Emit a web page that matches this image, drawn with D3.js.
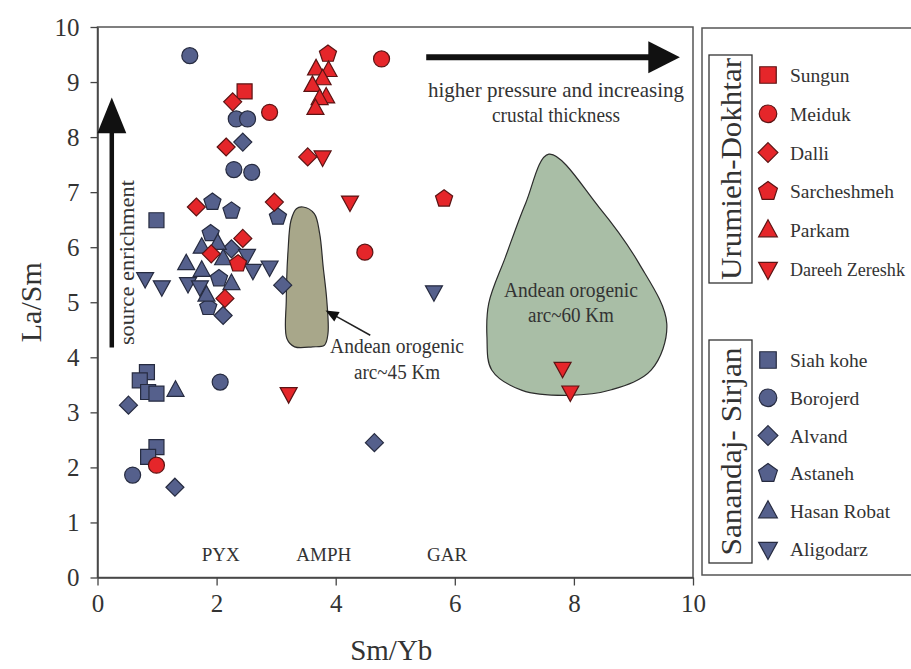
<!DOCTYPE html>
<html>
<head>
<meta charset="utf-8">
<script src="https://cdn.jsdelivr.net/npm/d3@7/dist/d3.min.js"></script>
<style>
  html, body { margin: 0; padding: 0; background: #fff; }
  #chart { width: 911px; height: 669px; overflow: hidden; }
  text { font-family: "Liberation Serif", "DejaVu Serif", serif; fill: #333; }
</style>
</head>
<body>
<div id="chart"></div>
<script>
// axis ticks
const xTicks = [0, 2, 4, 6, 8, 10];
const yTicks = [0, 1, 2, 3, 4, 5, 6, 7, 8, 9, 10];

// legend groups and series names
const groupUD = 'Urumieh-Dokhtar';
const groupSS = 'Sanandaj- Sirjan';
const seriesUD = ['Sungun', 'Meiduk', 'Dalli', 'Sarcheshmeh', 'Parkam', 'Dareeh Zereshk'];
const seriesSS = ['Siah kohe', 'Borojerd', 'Alvand', 'Astaneh', 'Hasan Robat', 'Aligodarz'];
const shapeOrder = ['square', 'circle', 'diamond', 'pentagon', 'triangle', 'triangleDown'];

// Urumieh-Dokhtar samples [Sm/Yb, La/Sm]
const sungun = [[2.47, 8.83]];
const meiduk = [[2.89, 8.45], [4.77, 9.42], [4.49, 5.91], [0.99, 2.04]];
const dalli = [[2.27, 8.64], [2.16, 7.82], [2.97, 6.82], [1.66, 6.73], [2.44, 6.16], [1.91, 5.88], [2.14, 5.07], [3.53, 7.64]];
const sarcheshmeh = [[3.87, 9.51], [5.82, 6.88], [2.36, 5.70]];
const parkam = [[3.67, 9.24], [3.88, 9.21], [3.78, 9.06], [3.61, 8.94], [3.84, 8.73], [3.73, 8.70], [3.66, 8.52]];
const dareehZereshk = [[3.78, 7.64], [4.24, 6.82], [3.21, 3.34], [7.81, 3.80], [7.94, 3.37]];

// Sanandaj-Sirjan samples
const siahKohe = [[0.99, 6.49], [0.83, 3.73], [0.71, 3.58], [0.85, 3.37], [0.99, 3.34], [0.99, 2.37], [0.85, 2.19]];
const borojerd = [[1.55, 9.48], [2.33, 8.33], [2.52, 8.33], [2.29, 7.41], [2.59, 7.36], [2.06, 3.55], [0.59, 1.86]];
const alvand = [[2.44, 7.91], [2.25, 5.97], [3.11, 5.31], [2.11, 4.76], [0.52, 3.13], [1.30, 1.64], [4.65, 2.45]];
const astaneh = [[1.93, 6.82], [2.25, 6.66], [3.03, 6.55], [1.90, 6.25], [2.04, 5.43], [1.86, 4.91]];
const hasanRobat = [[1.75, 6.00], [2.02, 6.07], [2.11, 5.79], [1.49, 5.70], [1.75, 5.58], [2.25, 5.34], [1.83, 5.13], [1.31, 3.40]];
const aligodarz = [[2.51, 5.85], [2.61, 5.58], [2.89, 5.64], [1.52, 5.34], [1.72, 5.28], [0.80, 5.43], [1.08, 5.28], [5.65, 5.19]];

// Andean arc fields (outline in data units)
const andean45 = [[3.45, 6.73], [3.64, 6.61], [3.73, 6.25], [3.79, 5.64], [3.85, 5.04], [3.87, 4.43], [3.81, 4.22],
  [3.61, 4.19], [3.31, 4.19], [3.18, 4.34], [3.17, 5.04], [3.20, 5.94], [3.25, 6.49], [3.34, 6.70]];
const andean60 = [[7.58, 7.69], [8.42, 6.73], [9.09, 5.71], [9.56, 4.61], [9.30, 3.77], [8.63, 3.41], [7.91, 3.31],
  [7.13, 3.40], [6.62, 3.77], [6.54, 4.37], [6.57, 4.98], [6.85, 5.82], [7.19, 6.80]];

// field labels
const phaseLabels = [['PYX', 2.07], ['AMPH', 3.8], ['GAR', 5.87]];

class LaSmDiagram {
  constructor(containerId) {
    this.containerId = containerId;
    this.red = '#e5262a';
    this.redStroke = '#5b1414';
    this.blue = '#55608c';
    this.blueStroke = '#262b40';
    this.init();
    this.renderFields();
    this.renderAxes();
    this.renderAnnotations();
    this.renderPoints();
    this.renderLegend();
  }

  init() {
    const vis = this;
    vis.svg = d3.select(`#${vis.containerId}`)
      .append('svg')
      .attr('width', 911)
      .attr('height', 669);

    vis.xScale = d3.scaleLinear().domain([0, 10]).range([97.5, 693]);
    vis.yScale = d3.scaleLinear().domain([0, 10]).range([577.5, 27]);
  }

  shapePath(type, k) {
    const p = (pts) => 'M' + pts.map((d) => `${d[0] * k},${d[1] * k}`).join('L') + 'Z';
    if (type === 'square') return p([[-7.5, -7.5], [7.5, -7.5], [7.5, 7.5], [-7.5, 7.5]]);
    if (type === 'diamond') return p([[0, -9], [9, 0], [0, 9], [-9, 0]]);
    if (type === 'triangle') return p([[0, -9.5], [8.5, 6], [-8.5, 6]]);
    if (type === 'triangleDown') return p([[0, 9.5], [8.5, -6], [-8.5, -6]]);
    if (type === 'pentagon') {
      return p(d3.range(5).map((i) => {
        const a = -Math.PI / 2 + i * 2 * Math.PI / 5;
        return [9 * Math.cos(a), 9 * Math.sin(a)];
      }));
    }
    const r = 8 * k;
    return `M${-r},0A${r},${r} 0 1,0 ${r},0A${r},${r} 0 1,0 ${-r},0Z`;
  }

  renderFields() {
    const vis = this;
    const line = d3.line()
      .x((d) => vis.xScale(d[0]))
      .y((d) => vis.yScale(d[1]))
      .curve(d3.curveCatmullRomClosed.alpha(0.5));

    vis.svg.append('path')
      .datum(andean45)
      .attr('d', line)
      .attr('fill', '#a8a78a')
      .attr('stroke', '#2b2b2b')
      .attr('stroke-width', 1.2);

    vis.svg.append('path')
      .datum(andean60)
      .attr('d', line)
      .attr('fill', '#a9bea6')
      .attr('stroke', '#2b2b2b')
      .attr('stroke-width', 1.2);
  }

  renderAxes() {
    const vis = this;

    // plot frame
    vis.svg.append('rect')
      .attr('x', vis.xScale(0))
      .attr('y', vis.yScale(10))
      .attr('width', vis.xScale(10) - vis.xScale(0))
      .attr('height', vis.yScale(0) - vis.yScale(10))
      .attr('fill', 'none')
      .attr('stroke', '#555')
      .attr('stroke-width', 1.5);

    const xAxis = d3.axisBottom(vis.xScale).tickValues(xTicks).tickSize(8).tickSizeOuter(0).tickPadding(9);
    const yAxis = d3.axisLeft(vis.yScale).tickValues(yTicks).tickSize(7).tickSizeOuter(0).tickPadding(11);

    const gx = vis.svg.append('g')
      .attr('class', 'x-axis')
      .attr('transform', `translate(0,${vis.yScale(0)})`)
      .call(xAxis);
    const gy = vis.svg.append('g')
      .attr('class', 'y-axis')
      .attr('transform', `translate(${vis.xScale(0)},0)`)
      .call(yAxis);

    [gx, gy].forEach((g) => {
      g.select('.domain').attr('stroke', '#444').attr('stroke-width', 1.5);
      g.selectAll('.tick line').attr('stroke', '#444').attr('stroke-width', 1.3);
      g.selectAll('.tick text')
        .attr('fill', '#333')
        .style('font-family', '"Liberation Serif", serif')
        .style('font-size', '25px');
    });

    vis.svg.append('text')
      .attr('transform', `translate(41,${(vis.yScale(0) + vis.yScale(10)) / 2}) rotate(-90)`)
      .attr('text-anchor', 'middle')
      .style('font-size', '30px')
      .text('La/Sm');

    vis.svg.append('text')
      .attr('x', (vis.xScale(0) + vis.xScale(10)) / 2 - 4)
      .attr('y', 660)
      .attr('text-anchor', 'middle')
      .style('font-size', '29px')
      .text('Sm/Yb');
  }

  renderAnnotations() {
    const vis = this;
    const x = vis.xScale;
    const y = vis.yScale;

    // vertical arrow: source enrichment
    vis.svg.append('line')
      .attr('x1', x(0.24)).attr('x2', x(0.24))
      .attr('y1', y(4.18)).attr('y2', y(8.1))
      .attr('stroke', '#111').attr('stroke-width', 4.5);
    vis.svg.append('path')
      .attr('d', `M${x(0.24)},${y(8.72)}L${x(0.24) + 14.5},${y(8.07)}L${x(0.24) - 14.5},${y(8.07)}Z`)
      .attr('fill', '#111');
    vis.svg.append('text')
      .attr('transform', `translate(${x(0.24) + 22},${y(5.72)}) rotate(-90)`)
      .attr('text-anchor', 'middle')
      .attr('textLength', 165)
      .attr('lengthAdjust', 'spacingAndGlyphs')
      .style('font-size', '20px')
      .text('source enrichment');

    // horizontal arrow: pressure
    vis.svg.append('line')
      .attr('x1', x(5.52)).attr('x2', x(9.27))
      .attr('y1', y(9.45)).attr('y2', y(9.45))
      .attr('stroke', '#111').attr('stroke-width', 6);
    vis.svg.append('path')
      .attr('d', `M${x(9.78)},${y(9.45)}L${x(9.25)},${y(9.45) - 16}L${x(9.25)},${y(9.45) + 16}Z`)
      .attr('fill', '#111');

    vis.svg.append('text')
      .attr('x', x(7.7)).attr('y', y(8.72))
      .attr('text-anchor', 'middle')
      .attr('textLength', 256)
      .attr('lengthAdjust', 'spacingAndGlyphs')
      .style('font-size', '21px')
      .text('higher pressure and increasing');
    vis.svg.append('text')
      .attr('x', x(7.7)).attr('y', y(8.28))
      .attr('text-anchor', 'middle')
      .attr('textLength', 128)
      .attr('lengthAdjust', 'spacingAndGlyphs')
      .style('font-size', '21px')
      .text('crustal thickness');

    // 45 km field label and pointer
    vis.svg.append('line')
      .attr('x1', x(4.58)).attr('y1', y(4.40))
      .attr('x2', x(3.95)).attr('y2', y(4.78))
      .attr('stroke', '#222').attr('stroke-width', 1.5);
    vis.svg.append('path')
      .attr('d', () => {
        const tx = x(3.83); const ty = y(4.85);
        const ang = Math.atan2(y(4.40) - ty, x(4.58) - tx);
        const l = 13; const w = 5.5;
        const bx = tx + l * Math.cos(ang); const by = ty + l * Math.sin(ang);
        return `M${tx},${ty}L${bx - w * Math.sin(ang)},${by + w * Math.cos(ang)}L${bx + w * Math.sin(ang)},${by - w * Math.cos(ang)}Z`;
      })
      .attr('fill', '#111');

    const fieldText = (cx, y1, y2, second) => {
      vis.svg.append('text')
        .attr('x', x(cx)).attr('y', y(y1))
        .attr('text-anchor', 'middle')
        .attr('textLength', 134)
        .attr('lengthAdjust', 'spacingAndGlyphs')
        .style('font-size', '20px')
        .text('Andean orogenic');
      vis.svg.append('text')
        .attr('x', x(cx)).attr('y', y(y2))
        .attr('text-anchor', 'middle')
        .attr('textLength', 86)
        .attr('lengthAdjust', 'spacingAndGlyphs')
        .style('font-size', '20px')
        .text(second);
    };
    fieldText(5.03, 4.07, 3.61, 'arc~45 Km');
    fieldText(7.95, 5.09, 4.64, 'arc~60 Km');

    vis.svg.selectAll('.phase')
      .data(phaseLabels)
      .enter()
      .append('text')
      .attr('class', 'phase')
      .attr('x', (d) => x(d[1]))
      .attr('y', y(0.3))
      .attr('text-anchor', 'middle')
      .style('font-size', '19px')
      .text((d) => d[0]);
  }

  renderPoints() {
    const vis = this;
    const blueSets = [siahKohe, borojerd, alvand, astaneh, hasanRobat, aligodarz];
    const redSets = [sungun, meiduk, dalli, sarcheshmeh, parkam, dareehZereshk];

    const drawSet = (pts, shape, fill, stroke) => {
      vis.svg.append('g')
        .selectAll('path')
        .data(pts)
        .enter()
        .append('path')
        .attr('transform', (d) => `translate(${vis.xScale(d[0])},${vis.yScale(d[1])})`)
        .attr('d', vis.shapePath(shape, 1))
        .attr('fill', fill)
        .attr('stroke', stroke)
        .attr('stroke-width', 1.2);
    };

    blueSets.forEach((pts, i) => drawSet(pts, shapeOrder[i], vis.blue, vis.blueStroke));
    redSets.forEach((pts, i) => drawSet(pts, shapeOrder[i], vis.red, vis.redStroke));
  }

  renderLegend() {
    const vis = this;

    vis.svg.append('rect')
      .attr('x', 702).attr('y', vis.yScale(10) + 1)
      .attr('width', 240).attr('height', 547)
      .attr('fill', 'none')
      .attr('stroke', '#555')
      .attr('stroke-width', 1.5);

    const groups = [
      { title: groupUD, names: seriesUD, top: 55, bottom: 283, fill: vis.red, stroke: vis.redStroke, len: 222 },
      { title: groupSS, names: seriesSS, top: 340, bottom: 563, fill: vis.blue, stroke: vis.blueStroke, len: 208 },
    ];

    groups.forEach((g) => {
      vis.svg.append('rect')
        .attr('x', 709).attr('y', g.top)
        .attr('width', 43).attr('height', g.bottom - g.top)
        .attr('fill', 'none')
        .attr('stroke', '#333')
        .attr('stroke-width', 1.3);

      vis.svg.append('text')
        .attr('transform', `translate(741,${(g.top + g.bottom) / 2}) rotate(-90)`)
        .attr('text-anchor', 'middle')
        .attr('textLength', g.len)
        .attr('lengthAdjust', 'spacingAndGlyphs')
        .style('font-size', '29px')
        .text(g.title);

      const rowScale = d3.scalePoint()
        .domain(g.names)
        .range([g.top + 20, g.bottom - 14]);

      const rows = vis.svg.append('g')
        .selectAll('g')
        .data(g.names)
        .enter()
        .append('g')
        .attr('transform', (d) => `translate(768,${rowScale(d)})`);

      rows.append('path')
        .attr('d', (d, i) => vis.shapePath(shapeOrder[i], 1.1))
        .attr('fill', g.fill)
        .attr('stroke', g.stroke)
        .attr('stroke-width', 1.2);

      // long labels get a smaller font so they stay inside the page
      rows.append('text')
        .attr('x', 22)
        .attr('y', 7)
        .style('font-size', '19.5px')
        .text((d) => d)
        .each(function () {
          const w = this.getComputedTextLength();
          const room = 905 - 768 - 22;
          if (w > room) {
            d3.select(this).style('font-size', `${(19.5 * room / w).toFixed(2)}px`);
          }
        });
    });
  }
}

new LaSmDiagram('chart');
</script>
</body>
</html>
